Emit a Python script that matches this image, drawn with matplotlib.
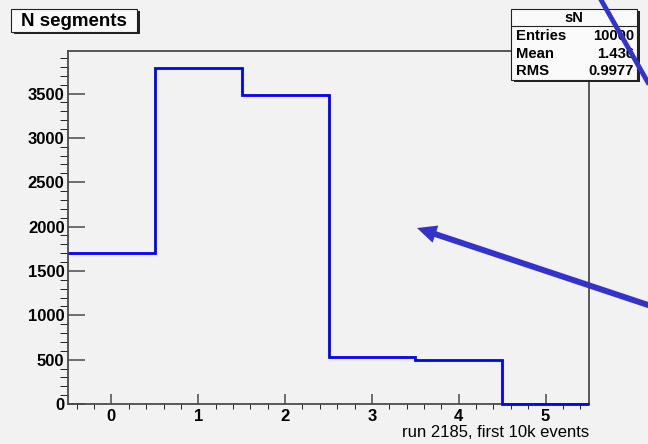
# ROOT-style histogram of the number of segments per event (run 2185).
import matplotlib
matplotlib.use("Agg")
import matplotlib.pyplot as plt
from matplotlib.patches import Rectangle, FancyArrowPatch
from matplotlib.lines import Line2D
from matplotlib.ticker import MultipleLocator

W, H = 648, 444

# ── data ─────────────────────────────────────────────────────
bin_edges = [-0.5, 0.5, 1.5, 2.5, 3.5, 4.5, 5.5]
counts = [1700, 3790, 3480, 530, 500, 0]

hist_name = "sN"
hist_title = "N segments"
x_title = "run 2185, first 10k events"
stat_labels = ["Entries", "Mean", "RMS"]
stat_values = ["10000", "1.436", "0.9977"]

BG = "#f2f2f2"
FRAME = "#4a4a4a"
ARROW = "#3333cc"

plt.rcParams["font.family"] = ["Liberation Sans", "DejaVu Sans"]
plt.rcParams["font.weight"] = "bold"


def fx(px):
    return px / W


def fy(py):
    return 1 - py / H


def box(fig, x0, y0, x1, y1, shadow=3):
    # ROOT pave: filled box with a dark drop shadow to the lower right
    fig.add_artist(Rectangle((fx(x0 + shadow), fy(y1 + shadow)), fx(x1 - x0), fy(y0) - fy(y1),
                             transform=fig.transFigure, fc="#222222", ec="none", zorder=5))
    fig.add_artist(Rectangle((fx(x0), fy(y1)), fx(x1 - x0), fy(y0) - fy(y1),
                             transform=fig.transFigure, fc="#fafafa", ec="#222222", lw=0.8, zorder=6))


fig = plt.figure(figsize=(W / 100, H / 100), dpi=100, facecolor=BG)
ax = fig.add_axes([fx(68), fy(404), fx(589) - fx(68), fy(51) - fy(404)], facecolor=BG)

ax.stairs(counts, bin_edges, color="#0000ff", lw=2, baseline=None, zorder=3, clip_on=False)
ax.set_xlim(bin_edges[0], bin_edges[-1])
ax.set_ylim(0, 1.05 * max(counts))

ax.xaxis.set_major_locator(MultipleLocator(1))
ax.xaxis.set_minor_locator(MultipleLocator(0.2))
ax.yaxis.set_major_locator(MultipleLocator(500))
ax.yaxis.set_minor_locator(MultipleLocator(100))
ax.tick_params(direction="in", color=FRAME, labelcolor="black", width=1.1)
ax.tick_params(axis="x", which="major", length=7, pad=3.5, labelsize=12)
ax.tick_params(axis="x", which="minor", length=3.5)
ax.tick_params(axis="y", which="major", length=12, pad=2.5, labelsize=12)
ax.tick_params(axis="y", which="minor", length=6)
for s in ax.spines.values():
    s.set_color(FRAME)
    s.set_linewidth(1.3)

ax.set_xlabel(x_title, loc="right", fontsize=12, labelpad=0.5)

# title pave
box(fig, 11, 9, 137, 32, shadow=2.5)
fig.text(fx(74), fy(21), hist_title, ha="center", va="center", fontsize=13.5, zorder=7)

# stats pave
box(fig, 511, 9, 637, 80, shadow=2.5)
fig.add_artist(Line2D([fx(511), fx(637)], [fy(26), fy(26)], transform=fig.transFigure,
                      color="#222222", lw=0.8, zorder=7))
fig.text(fx(574), fy(17.5), hist_name, ha="center", va="center", fontsize=10.5, zorder=7)
for i, (lab, v) in enumerate(zip(stat_labels, stat_values)):
    yy = fy(36 + 17.5 * i)
    fig.text(fx(516), yy, lab, ha="left", va="center", fontsize=10.7, zorder=7)
    fig.text(fx(634), yy, v, ha="right", va="center", fontsize=10.7, zorder=7)

# annotation arrows drawn over the canvas
fig.add_artist(FancyArrowPatch((fx(700), fy(322.3)), (fx(417), fy(228)), transform=fig.transFigure,
                               arrowstyle="simple,head_length=14,head_width=13,tail_width=4.3",
                               mutation_scale=1, color=ARROW, lw=0, shrinkA=0, shrinkB=0, zorder=8))
fig.add_artist(Line2D([fx(596), fx(680)], [fy(-9), fy(139)], transform=fig.transFigure,
                      color=ARROW, lw=3.5, zorder=8, solid_capstyle="butt"))

fig.savefig("out.png", dpi=100, facecolor=BG)
